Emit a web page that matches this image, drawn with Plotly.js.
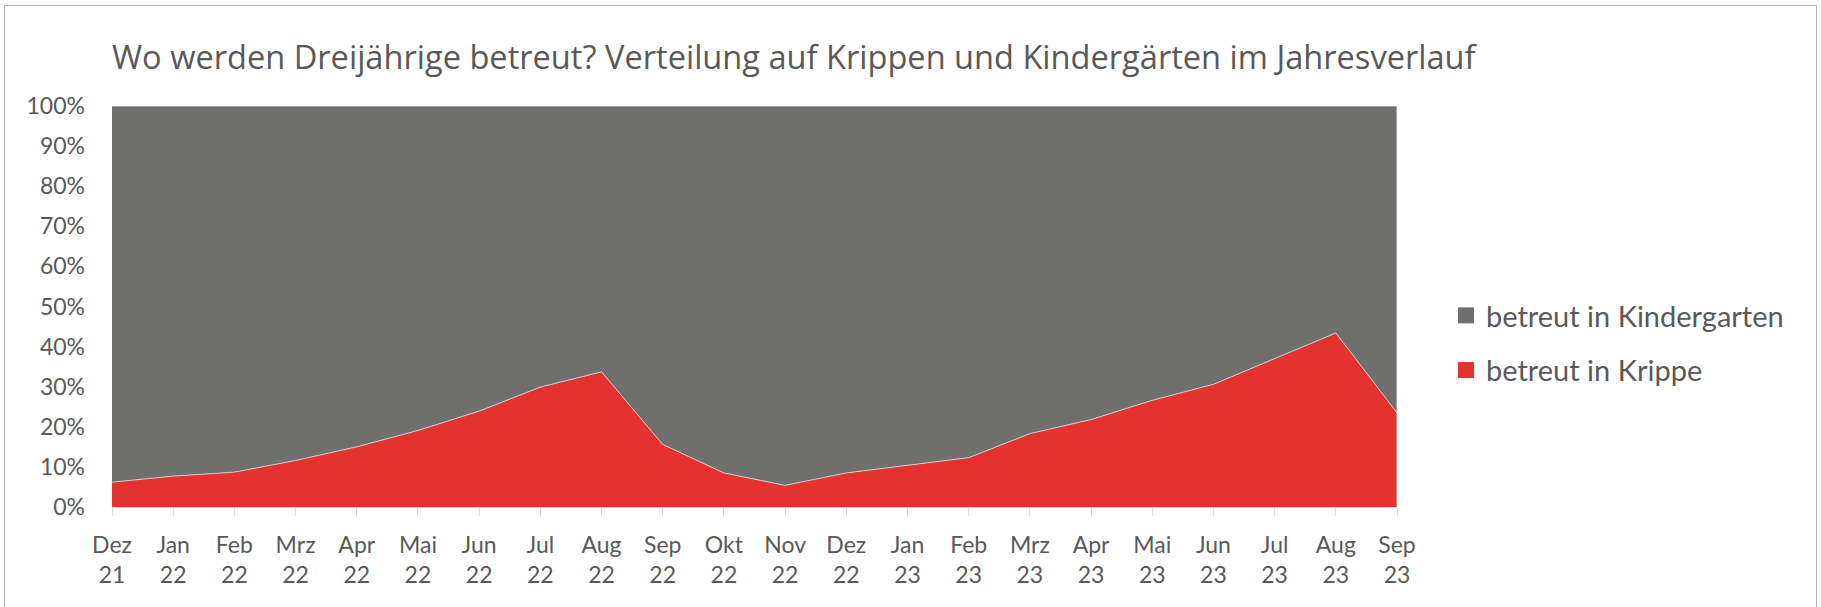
<!DOCTYPE html>
<html>
<head>
<meta charset="utf-8">
<script src="https://cdn.plot.ly/plotly-3.0.1.min.js"></script>
<style>
html,body{margin:0;padding:0;background:#fff;overflow:hidden;}
#chart{width:1821px;height:607px;position:absolute;left:0;top:0;}
#frame{position:absolute;left:4px;top:5px;width:1813px;height:640px;border:1px solid #b4b4b4;box-sizing:border-box;pointer-events:none;}
</style>
</head>
<body>
<div id="chart"></div>
<div id="frame"></div>
<script>
const months = ["Dez","Jan","Feb","Mrz","Apr","Mai","Jun","Jul","Aug","Sep","Okt","Nov","Dez","Jan","Feb","Mrz","Apr","Mai","Jun","Jul","Aug","Sep"];
const years  = ["21","22","22","22","22","22","22","22","22","22","22","22","22","23","23","23","23","23","23","23","23","23"];
const krippe = [6.2, 7.7, 8.7, 11.6, 15.0, 19.1, 23.9, 29.9, 33.7, 15.6, 8.5, 5.4, 8.5, 10.4, 12.3, 18.3, 21.8, 26.6, 30.6, 37.0, 43.4, 23.5];
const kindergarten = [93.8, 92.3, 91.3, 88.4, 85.0, 80.9, 76.1, 70.1, 66.3, 84.4, 91.5, 94.6, 91.5, 89.6, 87.7, 81.7, 78.2, 73.4, 69.4, 63.0, 56.6, 76.5];
const seriesNames = ["betreut in Krippe", "betreut in Kindergarten"];
const yTicks = [0,10,20,30,40,50,60,70,80,90,100];

const categories = months.map((m,i) => m + "<br>" + years[i]);
const idx = months.map((m,i) => i);

const RED = "#e63131";
const GRAY = "#6f6f6d";
const FONT = "Lato, 'Open Sans', sans-serif";
const TXT = "#595959";

const traces = [
  {x: idx, y: krippe, name: seriesNames[0], type: "scatter", mode: "lines", stackgroup: "one",
   fillcolor: RED, line: {color: "#cfcfcf", width: 1}, showlegend: false, hoverinfo: "skip"},
  {x: idx, y: kindergarten, name: seriesNames[1], type: "scatter", mode: "lines", stackgroup: "one",
   fillcolor: GRAY, line: {color: "#cfcfcf", width: 1}, showlegend: false, hoverinfo: "skip"},
  {x: [null], y: [null], name: seriesNames[1], type: "scatter", mode: "markers", legendgroup: "a",
   marker: {symbol: "square", size: 18, color: GRAY}, showlegend: true},
  {x: [null], y: [null], name: seriesNames[0], type: "scatter", mode: "markers", legendgroup: "b",
   marker: {symbol: "square", size: 18, color: RED}, showlegend: true}
];

const layout = {
  width: 1821, height: 607,
  margin: {l: 112, r: 424, t: 106, b: 100, pad: 0},
  paper_bgcolor: "#fff", plot_bgcolor: "#fff",
  font: {family: FONT, color: TXT, size: 23},
  title: {text: "Wo werden Dreijährige betreut? Verteilung auf Krippen und Kindergärten im Jahresverlauf",
          font: {family: "'Open Sans', sans-serif", size: 32.6, color: TXT},
          x: 112/1821, xref: "container", xanchor: "left",
          y: 1 - 58/607, yref: "container", yanchor: "middle"},
  xaxis: {
    range: [0, 21], tickmode: "array", tickvals: idx, ticktext: categories,
    showgrid: false, zeroline: false, showline: true, linecolor: "#d9d9d9", linewidth: 1,
    ticks: "outside", ticklen: 8, tickcolor: "#d9d9d9", tickwidth: 1,
    tickfont: {family: FONT, size: 23, color: TXT}, tickangle: 0,
    ticklabelstandoff: 9, fixedrange: true
  },
  yaxis: {
    range: [0, 100], tickmode: "array", tickvals: yTicks, ticktext: yTicks.map(v => v + "%"),
    showgrid: false, zeroline: false, showline: false, ticks: "",
    tickfont: {family: FONT, size: 23, color: TXT},
    ticklabelstandoff: 26, fixedrange: true
  },
  legend: {
    x: 1446/1821, xref: "container", xanchor: "left",
    y: 1 - 290/607, yref: "container", yanchor: "top",
    font: {family: FONT, size: 29, color: TXT},
    bgcolor: "rgba(0,0,0,0)", itemsizing: "trace", tracegroupgap: 14,
    traceorder: "grouped"
  },
  shapes: [
    {type: "line", xref: "x", yref: "paper", x0: 21, x1: 21, y0: 0, y1: 1,
     line: {color: "#d9d9d9", width: 1}, layer: "above"}
  ],
  showlegend: true
};

Plotly.newPlot("chart", traces, layout, {staticPlot: true, displayModeBar: false});
</script>
</body>
</html>
